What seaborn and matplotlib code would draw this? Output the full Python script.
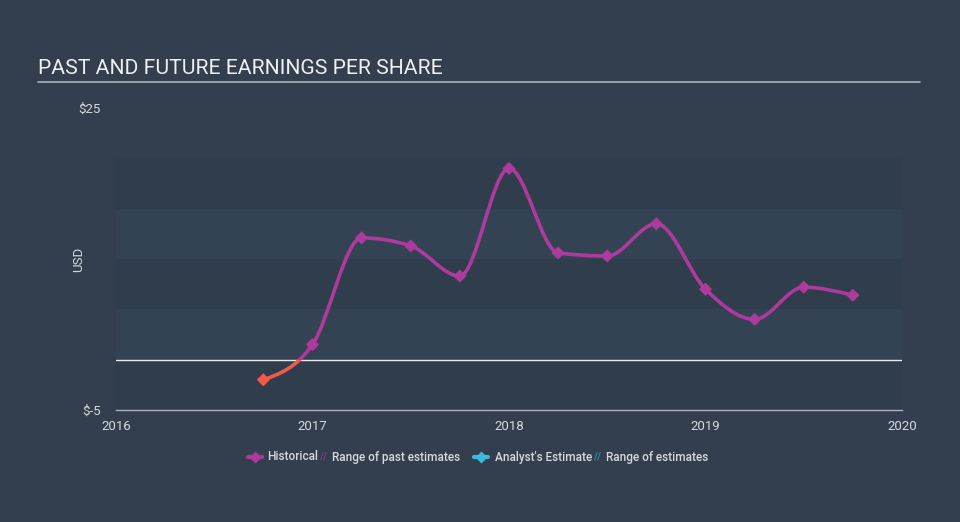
import numpy as np
import matplotlib
matplotlib.use("Agg")
import matplotlib.pyplot as plt
from matplotlib.path import Path
from matplotlib.patches import PathPatch, Rectangle
from matplotlib.lines import Line2D
import seaborn as sns
import pandas as pd

# ---- data ----
dates = [2016.75, 2017.0, 2017.25, 2017.5, 2017.75, 2018.0, 2018.25,
         2018.5, 2018.75, 2019.0, 2019.25, 2019.5, 2019.75]
eps = [-2.0, 1.5, 12.1, 11.3, 8.3, 19.0, 10.6, 10.3, 13.5, 7.0, 4.0, 7.2, 6.4]
x_ticks = [2016, 2017, 2018, 2019, 2020]
y_tick_vals = [-5, 25]
y_tick_labels = ["$-5", "$25"]
title = "PAST AND FUTURE EARNINGS PER SHARE"
legend_labels = ["Historical", "Range of past estimates", "Analyst's Estimate", "Range of estimates"]

BG = "#333f4e"
LIGHT_BAND = "#344354"
DARK_BAND = "#303d4c"
PURPLE = "#ad3a9d"
RED = "#f05a4a"
CYAN = "#3fb8e0"
TXT = "#d5d9de"

sns.set_theme(style="dark")
plt.rcParams["font.family"] = ["Roboto", "DejaVu Sans"]

fig = plt.figure(figsize=(9.6, 5.22), dpi=100, facecolor=BG)
ax = fig.add_axes([116/960, (522-410)/522, 786/960, 302/522])
ax.set_facecolor(BG)
ax.set_xlim(2016, 2020)
ax.set_ylim(-5, 25)

# bands
for lo, hi, c in [(-5, 0, DARK_BAND), (0, 5, LIGHT_BAND), (5, 10, DARK_BAND),
                  (10, 15, LIGHT_BAND), (15, 20, DARK_BAND)]:
    ax.axhspan(lo, hi, color=c, lw=0, zorder=0)

ax.axhline(0, color="#e8ebee", lw=1.0, zorder=1)

# smooth monotone path (d3 monotoneX style tangents)
xs = np.array(dates, dtype=float)
ys = np.array(eps, dtype=float)
n = len(xs)
h = np.diff(xs)
s = np.diff(ys) / h
t = np.zeros(n)
for i in range(1, n - 1):
    h0, h1, s0, s1 = h[i-1], h[i], s[i-1], s[i]
    p = (s0 * h1 + s1 * h0) / (h0 + h1)
    t[i] = (np.sign(s0) + np.sign(s1)) * min(abs(s0), abs(s1), 0.5 * abs(p))
t[0] = (3 * s[0] - t[1]) / 2
t[-1] = (3 * s[-1] - t[-2]) / 2
verts = [(xs[0], ys[0])]
codes = [Path.MOVETO]
for i in range(n - 1):
    dx = h[i] / 3
    verts += [(xs[i] + dx, ys[i] + dx * t[i]),
              (xs[i+1] - dx, ys[i+1] - dx * t[i+1]),
              (xs[i+1], ys[i+1])]
    codes += [Path.CURVE4] * 3
path = Path(verts, codes)

for color, (lo, hi) in [(PURPLE, (0, 30)), (RED, (-10, 0))]:
    patch = PathPatch(path, facecolor="none", edgecolor=color, lw=2.6, zorder=3,
                      capstyle="round", joinstyle="round")
    ax.add_patch(patch)
    clip = Rectangle((2015, lo), 10, hi - lo, transform=ax.transData)
    patch.set_clip_path(clip)

df = pd.DataFrame({"date": dates, "eps": eps})
df["neg"] = df["eps"] < 0
sns.scatterplot(data=df, x="date", y="eps", hue="neg",
                palette={False: PURPLE, True: RED}, marker="D", s=45,
                edgecolor="none", legend=False, ax=ax, zorder=4)

# axes styling
for sp in ["top", "right", "left"]:
    ax.spines[sp].set_visible(False)
ax.spines["bottom"].set_color("#aab2bb")
ax.spines["bottom"].set_linewidth(1)
ax.set_xticks(x_ticks)
ax.set_xticklabels([str(v) for v in x_ticks])
ax.tick_params(axis="x", colors="#aab2bb", length=6, width=1, direction="out",
               labelcolor=TXT, labelsize=9.5, pad=1)
ax.set_yticks(y_tick_vals)
ax.set_yticklabels(y_tick_labels)
ax.tick_params(axis="y", length=0, labelcolor=TXT, labelsize=9.5, pad=11)
ax.set_xlabel("")
ax.set_ylabel("USD", color=TXT, fontsize=9.5)
ax.yaxis.set_label_coords((85 - 116) / 786, 0.5)
ax.grid(False)

# title and underline
fig.text(38/960, 1 - 68/522, title, color="#eef0f2", fontsize=15.2,
         ha="left", va="center")
fig.add_artist(Line2D([38/960, 920/960], [1 - 82/522, 1 - 82/522],
                      color="#aab2bb", lw=1.2))

# legend
ly = 1 - 457/522
def fx(px):
    return px / 960
fig.add_artist(Line2D([fx(248), fx(262)], [ly, ly], color=PURPLE, lw=3))
fig.add_artist(Line2D([fx(255)], [ly], color=PURPLE, marker="D", ms=6, mec="none"))
fig.text(fx(267), ly, legend_labels[0], color=TXT, fontsize=8.5, ha="left", va="center", weight="medium")
fig.text(fx(320), ly, "//", color=PURPLE, fontsize=7, ha="left", va="center", alpha=0.8)
fig.text(fx(332), ly, legend_labels[1], color=TXT, fontsize=8.5, ha="left", va="center", weight="medium")
fig.add_artist(Line2D([fx(474), fx(488)], [ly, ly], color=CYAN, lw=3))
fig.add_artist(Line2D([fx(481)], [ly], color=CYAN, marker="D", ms=6, mec="none"))
fig.text(fx(495), ly, legend_labels[2], color=TXT, fontsize=8.5, ha="left", va="center", weight="medium")
fig.text(fx(594), ly, "//", color=CYAN, fontsize=7, ha="left", va="center", alpha=0.8)
fig.text(fx(606), ly, legend_labels[3], color=TXT, fontsize=8.5, ha="left", va="center", weight="medium")

fig.savefig("out.png", dpi=100, facecolor=BG)
